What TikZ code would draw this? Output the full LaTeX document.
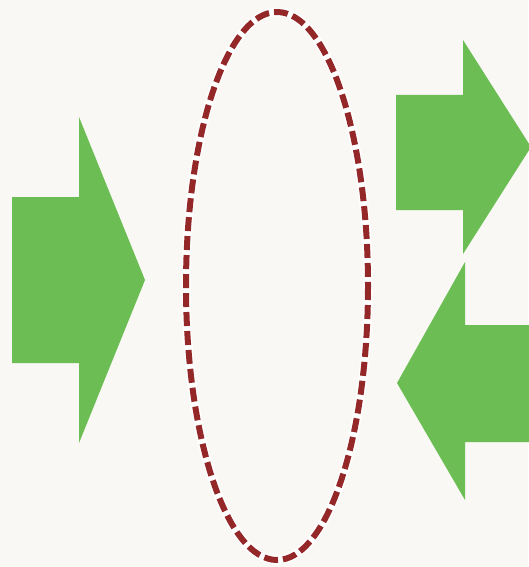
\documentclass[tikz,border=0pt]{standalone}
\usepackage{xcolor}
\usepackage{tikz}
\usetikzlibrary{calc}

\definecolor{leafgreen}{RGB}{108,190,84}
\definecolor{brickred}{RGB}{148,40,40}
\definecolor{paper}{RGB}{249,248,244}

\tikzset{
  bigarrow/.style={fill=leafgreen},
  ringhalo/.style={white, line width=9pt},
  ringdash/.style={brickred, line width=6pt, dash pattern=on 14pt off 5pt}
}

\begin{document}
\begin{tikzpicture}[x=1pt, y=-1pt]
  % Paper
  \fill[paper] (0,0) rectangle (528,567);
  \useasboundingbox (0,0) rectangle (528,567);

  % Left arrow, pointing right
  \fill[bigarrow] (12,197) -- (79,197) -- (79,117) -- (145,280)
    -- (79,443) -- (79,363) -- (12,363) -- cycle;

  % Upper right arrow, pointing right
  \fill[bigarrow] (396,95) -- (463,95) -- (463,40) -- (531,147)
    -- (463,254) -- (463,210) -- (396,210) -- cycle;

  % Lower right arrow, pointing left
  \fill[bigarrow] (540,325) -- (465,325) -- (465,262) -- (397,383)
    -- (465,500) -- (465,442) -- (540,442) -- cycle;

  % Dashed ring
  \draw[ringhalo] (277,286) ellipse (91 and 274);
  \draw[ringdash] (277,286) ellipse (91 and 274);
\end{tikzpicture}
\end{document}
